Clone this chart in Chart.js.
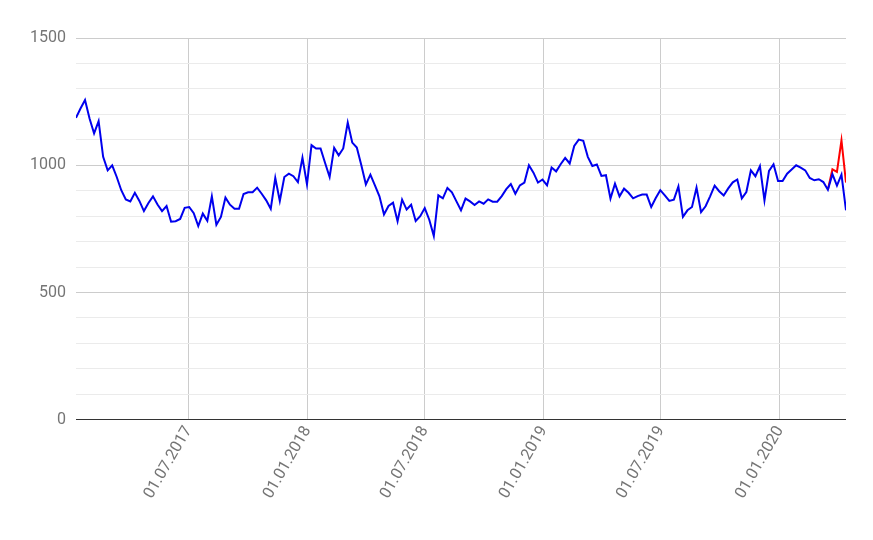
<!DOCTYPE html>
<html>
<head>
<meta charset="utf-8">
<script src="https://cdn.jsdelivr.net/npm/chart.js@4"></script>
<style>
  html, body { margin: 0; padding: 0; background: #fff; }
  #wrap { width: 873px; height: 540px; }
</style>
</head>
<body>
<div id="wrap"><canvas id="chart"></canvas></div>
<script>
// weekly values, first week starts 08.01.2017
const startDate = Date.UTC(2017, 0, 8);
const blueValues = [
  1186,1223,1256,1184,1125,1173,1033,980,1000,954,902,866,858,892,860,820,852,878,846,820,840,778,780,789,833,836,812,761,810,782,878,766,797,873,845,829,829,887,894,894,912,888,862,829,
  950,860,954,967,957,934,1030,925,1079,1066,1066,1009,954,1068,1039,1066,1168,1089,1070,1000,925,963,921,878,807,840,853,780,865,826,845,781,800,832,786,722,882,870,911,894,858,823,
  869,858,844,858,849,866,857,857,879,906,926,888,921,932,1000,971,932,944,921,991,976,1004,1029,1007,1076,1101,1096,1033,997,1003,958,961,869,928,878,908,892,870,879,885,885,836,
  871,902,882,860,865,917,797,823,836,912,816,839,878,920,898,881,909,933,944,870,895,980,957,997,862,978,1004,938,938,967,983,1000,991,980,950,941,945,934,904,965,920,963,823
];
const redTail = [904, 984, 974, 1098, 932];
const tickDates = ['2017-07-01', '2018-01-01', '2018-07-01', '2019-01-01', '2019-07-01', '2020-01-01'];
const yLabels = [0, 500, 1000, 1500];

const DAY = 86400000;
const bluePoints = blueValues.map((v, i) => ({ x: startDate + i * 7 * DAY, y: v }));
const redStart = blueValues.length - redTail.length;
const redPoints = redTail.map((v, i) => ({ x: startDate + (redStart + i) * 7 * DAY, y: v }));
const tickMs = tickDates.map(d => Date.parse(d + 'T00:00:00Z'));

function fmt(ms) {
  const d = new Date(ms);
  const p = n => String(n).padStart(2, '0');
  return p(d.getUTCDate()) + '.' + p(d.getUTCMonth() + 1) + '.' + d.getUTCFullYear();
}

Chart.defaults.font.family = 'Roboto';
Chart.defaults.color = '#757575';

new Chart(document.getElementById('chart'), {
  type: 'line',
  data: {
    datasets: [
      { data: bluePoints, borderColor: '#0000ee', borderWidth: 2, pointRadius: 0, tension: 0 },
      { data: redPoints, borderColor: '#ff0000', borderWidth: 2, pointRadius: 0, tension: 0 }
    ]
  },
  options: {
    responsive: true,
    maintainAspectRatio: false,
    animation: false,
    layout: { padding: { left: 20, right: 27, top: 38, bottom: 35 } },
    plugins: { legend: { display: false }, tooltip: { enabled: false } },
    scales: {
      x: {
        type: 'linear',
        min: bluePoints[0].x,
        max: bluePoints[bluePoints.length - 1].x,
        afterBuildTicks: axis => { axis.ticks = tickMs.map(v => ({ value: v })); },
        ticks: {
          autoSkip: false,
          maxRotation: 60, minRotation: 60,
          font: { size: 16 },
          callback: v => fmt(v)
        },
        grid: { color: '#cccccc', drawTicks: false, lineWidth: 1 },
        border: { display: false }
      },
      y: {
        min: 0, max: 1500,
        afterBuildTicks: axis => {
          const t = [];
          for (let v = 0; v <= 1500; v += 100) t.push({ value: v });
          axis.ticks = t;
        },
        ticks: {
          autoSkip: false,
          font: { size: 16 },
          padding: 10,
          callback: v => yLabels.includes(v) ? String(v) : ''
        },
        grid: {
          drawTicks: false,
          color: ctx => ctx.tick.value === 0 ? '#333333' : (ctx.tick.value % 500 === 0 ? '#cccccc' : '#ebebeb'),
          lineWidth: 1
        },
        border: { display: false }
      }
    }
  }
});
</script>
</body>
</html>
